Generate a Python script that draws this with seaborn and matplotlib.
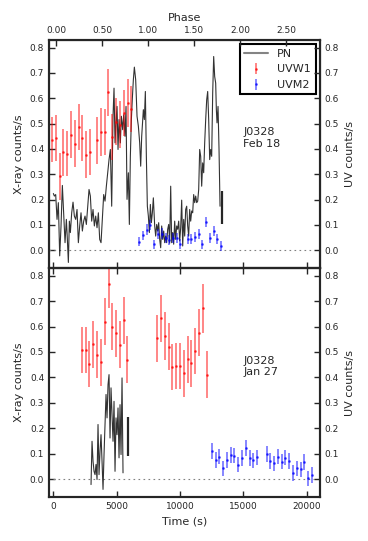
import matplotlib
matplotlib.use("Agg")
import matplotlib.pyplot as plt
import seaborn as sns
import numpy as np
import pandas as pd

# ---- Feb 18 (top panel) ----
pn1_t = [3, 82, 187, 292, 397, 503, 608, 713, 818, 924, 1029, 1108, 1187, 1266, 1345,
         1450, 1555, 1660, 1766, 1871, 1976, 2081, 2186, 2292, 2397, 2502, 2607, 2713,
         2818, 2923, 3028, 3134, 3239, 3344, 3449, 3555, 3660, 3765, 3870, 3976, 4081,
         4186, 4291, 4397, 4502, 4607, 4712, 4791, 4870, 4949, 5028, 5107, 5186, 5291,
         5370, 5475, 5554, 5659, 5738, 5817, 5923, 6001, 6080, 6159, 6238, 6317, 6396,
         6501, 6607, 6712, 6817, 6896, 6975, 7106, 7185, 7264, 7343, 7422, 7501, 7580,
         7659, 7738, 7816, 7895, 8001, 8080, 8159, 8237, 8316, 8395, 8474, 8553, 8632,
         8711, 8790, 8869, 8948, 9027, 9106, 9185, 9264, 9342, 9421, 9500, 9579, 9658,
         9737, 9816, 9895, 9974, 10053, 10132, 10211, 10290, 10369, 10447, 10526, 10605,
         10684, 10763, 10842, 10921, 11000, 11079, 11158, 11237, 11316, 11395, 11474,
         11552, 11631, 11710, 11789, 11868, 11947, 12026, 12105, 12184, 12263, 12342,
         12421, 12500, 12579, 12657, 12736, 12815, 12868, 12921, 13000, 13079, 13158]
pn1_rate = [0.224, 0.214, 0.220, 0.122, 0.188, -0.022, 0.096, 0.256, 0.148, 0.030, 0.122,
            0.043, -0.048, 0.115, 0.070, 0.148, 0.190, 0.135, 0.122, 0.161, 0.030, 0.096,
            0.148, 0.076, 0.115, 0.135, 0.102, 0.174, 0.240, 0.214, 0.115, 0.161, 0.096,
            0.135, 0.089, 0.148, 0.043, 0.030, 0.122, 0.220, 0.194, 0.253, 0.306, 0.358,
            0.398, 0.174, 0.529, 0.640, 0.424, 0.503, 0.568, 0.398, 0.516, 0.424, 0.529,
            0.476, 0.535, 0.450, 0.568, 0.201, 0.306, 0.102, 0.371, 0.516, 0.601, 0.673,
            0.723, 0.673, 0.529, 0.490, 0.424, 0.332, 0.450, 0.555, 0.516, 0.627, 0.371,
            0.174, 0.135, 0.070, 0.181, 0.109, 0.148, 0.207, 0.096, 0.056, 0.102, 0.076,
            0.109, 0.043, 0.010, 0.096, 0.043, 0.076, 0.030, 0.056, 0.030, 0.083, 0.102,
            0.028, 0.253, 0.030, 0.070, 0.024, 0.115, 0.043, 0.096, 0.083, 0.115, 0.037,
            0.089, 0.198, 0.017, 0.122, 0.056, 0.161, 0.174, 0.096, 0.056, 0.161, 0.115,
            0.155, 0.148, 0.220, 0.188, 0.214, 0.188, 0.194, 0.240, 0.398, 0.371, 0.253,
            0.345, 0.306, 0.424, 0.516, 0.594, 0.627, 0.516, 0.358, 0.398, 0.371, 0.621,
            0.765, 0.686, 0.660, 0.555, 0.503, 0.568, 0.398, 0.174]
pn1_typ = (13340, 0.168, 0.066)   # time, rate, typical error

uvw1_t1 = [-79, 213, 505, 789, 1105, 1397, 1713, 2005, 2289, 2604, 2896, 3473, 3765,
           4081, 4341, 4657, 4949, 5264, 5556, 5872, 6156]
uvw1_r1 = [0.437, 0.444, 0.293, 0.387, 0.382, 0.457, 0.421, 0.487, 0.444, 0.378, 0.387,
           0.434, 0.467, 0.467, 0.623, 0.448, 0.508, 0.496, 0.542, 0.581, 0.558]
uvw1_e1 = [0.09, 0.092, 0.093, 0.092, 0.09, 0.092, 0.094, 0.092, 0.09, 0.092, 0.09,
           0.092, 0.094, 0.092, 0.094, 0.09, 0.092, 0.094, 0.092, 0.094, 0.092]

uvm2_t1 = [6764, 7056, 7372, 7632, 7948, 8264, 8579, 8871, 9155, 9448, 9740, 10024,
           10608, 10892, 11184, 11476, 11760, 12076, 12368, 12660, 12944, 13236]
uvm2_r1 = [0.033, 0.060, 0.082, 0.100, 0.024, 0.065, 0.066, 0.048, 0.040, 0.048, 0.048,
           0.025, 0.046, 0.046, 0.054, 0.065, 0.024, 0.110, 0.048, 0.076, 0.046, 0.018]
uvm2_e1 = [0.018, 0.018, 0.02, 0.02, 0.018, 0.02, 0.02, 0.02, 0.02, 0.02, 0.02, 0.02,
           0.02, 0.02, 0.02, 0.02, 0.018, 0.02, 0.02, 0.02, 0.02, 0.02]

# ---- Jan 27 (bottom panel) ----
pn2_t = [2976, 3055, 3134, 3213, 3292, 3370, 3449, 3528, 3607, 3686, 3765, 3844, 3923,
         4002, 4081, 4160, 4239, 4318, 4397, 4476, 4554, 4633, 4712, 4791, 4870, 4949,
         5028, 5107, 5186, 5265, 5344, 5423, 5501]
pn2_rate = [-0.021, 0.149, 0.071, 0.031, 0.018, 0.058, -0.001, 0.215, 0.018, 0.110,
            0.175, 0.071, -0.040, 0.097, 0.215, 0.333, 0.241, 0.372, 0.411, 0.162, 0.359,
            0.254, 0.149, 0.306, 0.031, 0.241, 0.175, 0.280, 0.084, 0.293, 0.097, 0.398,
            0.025]
pn2_typ = (5870, 0.167, 0.077)

uvw1_t2 = [2266, 2581, 2844, 3160, 3449, 3765, 4081, 4370, 4660, 4949, 5238, 5554, 5843,
           8185, 8500, 8790, 9106, 9395, 9711, 10000, 10290, 10605, 10895, 11211, 11500,
           11816, 12105]
uvw1_r2 = [0.508, 0.508, 0.453, 0.530, 0.489, 0.460, 0.619, 0.766, 0.600, 0.573, 0.528,
           0.624, 0.470, 0.554, 0.632, 0.563, 0.521, 0.440, 0.445, 0.445, 0.416, 0.471,
           0.455, 0.504, 0.576, 0.671, 0.410]
uvw1_e2 = [0.09, 0.09, 0.09, 0.092, 0.092, 0.092, 0.092, 0.095, 0.092, 0.092, 0.092,
           0.094, 0.092, 0.092, 0.092, 0.093, 0.092, 0.09, 0.09, 0.09, 0.092, 0.092,
           0.092, 0.09, 0.092, 0.095, 0.092]

uvm2_t2 = [12526, 12815, 13105, 13395, 13711, 14000, 14290, 14605, 14895, 15211, 15500,
           15790, 16079, 16842, 17132, 17421, 17711, 18026, 18316, 18605, 18921, 19211,
           19526, 19816, 20132, 20421]
uvm2_r2 = [0.111, 0.076, 0.089, 0.043, 0.076, 0.096, 0.092, 0.057, 0.083, 0.124, 0.083,
           0.074, 0.086, 0.099, 0.072, 0.063, 0.089, 0.069, 0.085, 0.072, 0.024, 0.043,
           0.039, 0.068, 0.004, 0.017]
uvm2_e2 = [0.031, 0.03, 0.03, 0.03, 0.03, 0.031, 0.03, 0.03, 0.03, 0.031, 0.03, 0.03,
           0.03, 0.03, 0.03, 0.03, 0.03, 0.03, 0.03, 0.03, 0.03, 0.03, 0.03, 0.03, 0.03,
           0.03]

labels = ["J0328\nFeb 18", "J0328\nJan 27"]
time_ticks = [0, 5000, 10000, 15000, 20000]
rate_ticks = [0.0, 0.1, 0.2, 0.3, 0.4, 0.5, 0.6, 0.7, 0.8]
phase_ticks = [0.0, 0.5, 1.0, 1.5, 2.0, 2.5]

sns.set_style("ticks")
plt.rcParams['font.family'] = ['DejaVu Sans']
plt.rcParams['xtick.direction'] = 'in'
plt.rcParams['ytick.direction'] = 'in'
plt.rcParams['xtick.major.size'] = 4
plt.rcParams['ytick.major.size'] = 4

fig = plt.figure(figsize=(3.68, 5.41), dpi=100)
ax1 = fig.add_axes([0.1332, 0.5046, 0.7364, 0.4214])
ax2 = fig.add_axes([0.1332, 0.0813, 0.7364, 0.4233])

xlim = (-340, 21050)
ylim = (-0.07, 0.83)

panels = [
    (ax1, pn1_t, pn1_rate, pn1_typ, uvw1_t1, uvw1_r1, uvw1_e1, uvm2_t1, uvm2_r1, uvm2_e1, -340),
    (ax2, pn2_t, pn2_rate, pn2_typ, uvw1_t2, uvw1_r2, uvw1_e2, uvm2_t2, uvm2_r2, uvm2_e2, 0),
]

for i, (ax, pt, pr, ptyp, wt, wr, we, mt, mr, me, z0) in enumerate(panels):
    ax.hlines(0, z0, 20600, colors='gray', linestyles=(0, (1.5, 3)), lw=0.8, zorder=1)
    df = pd.DataFrame({'t': pt, 'rate': pr})
    sns.lineplot(data=df, x='t', y='rate', ax=ax, estimator=None, sort=False,
                 color='k', lw=0.8, alpha=0.8, label='PN' if i == 0 else None)
    ax.errorbar([ptyp[0]], [ptyp[1]], yerr=[ptyp[2]], fmt='none', ecolor='k',
                elinewidth=1.6, alpha=0.85)
    ax.errorbar(wt, wr, yerr=we, fmt='.', color='red', ms=2, ecolor='red',
                elinewidth=1.1, alpha=0.6, label='UVW1' if i == 0 else None)
    ax.errorbar(mt, mr, yerr=me, fmt='.', color='blue', ms=2, ecolor='blue',
                elinewidth=1.1, alpha=0.6, label='UVM2' if i == 0 else None)
    ax.text(15000, 0.40, labels[i], fontsize=8, ha='left', va='bottom')

    ax.set_xlim(xlim)
    ax.set_ylim(ylim)
    ax.set_xticks(time_ticks)
    ax.set_yticks(rate_ticks)
    ax.set_yticklabels(['%.1f' % v for v in rate_ticks])
    ax.tick_params(labelsize=6.5, width=1, length=4, direction='in')
    ax.set_ylabel('X-ray counts/s', fontsize=8, labelpad=4)
    ax.set_xlabel('')
    for s in ax.spines.values():
        s.set_linewidth(1.5)

    axr = ax.twinx()
    axr.set_ylim(ylim)
    axr.set_yticks(rate_ticks)
    axr.set_yticklabels(['%.1f' % v for v in rate_ticks])
    axr.tick_params(labelsize=6.5, width=1, length=4, direction='in')
    axr.set_ylabel('UV counts/s', fontsize=8, labelpad=4)
    for s in axr.spines.values():
        s.set_linewidth(1.5)

ax1.tick_params(axis='x', labelbottom=False, top=False)
ax2.tick_params(axis='x', top=True)
ax2.set_xlabel('Time (s)', fontsize=8)

# phase axis on top
axp = ax1.twiny()
axp.set_xlim(-0.076, 2.870)
axp.set_xticks(phase_ticks)
axp.set_xticklabels(['%.2f' % p for p in phase_ticks])
axp.tick_params(labelsize=6.5, width=1, length=4, direction='in')
axp.set_xlabel('Phase', fontsize=8)

leg = ax1.legend(loc='upper right', fontsize=8, fancybox=False, framealpha=1,
                 borderaxespad=0.4, handlelength=2.2, borderpad=0.4, labelspacing=0.5)
leg.get_frame().set_edgecolor('k')
leg.get_frame().set_linewidth(1.5)
leg.legend_handles[0].set_color('0.4')
leg.legend_handles[0].set_linewidth(1.5)

fig.savefig('out.png', dpi=100)
